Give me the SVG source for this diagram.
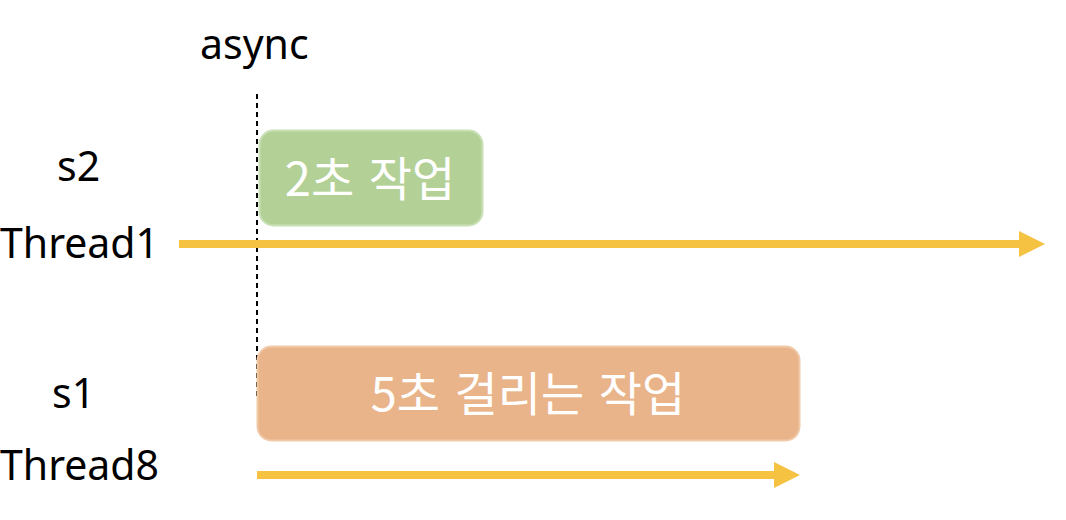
<svg xmlns="http://www.w3.org/2000/svg" width="1066" height="520" viewBox="0 0 1066 520">
<style>
.lbl{font-family:"Noto Sans","Noto Sans CJK KR",sans-serif;font-size:41px;fill:#000}
.box-t{font-family:"Noto Sans CJK KR","Noto Sans",sans-serif;font-size:47px;fill:#fff;text-anchor:middle;word-spacing:4px}
.arrow{stroke:#F5C242;stroke-width:8;fill:none}
.head{fill:#F5C242}
</style>
<rect width="1066" height="520" fill="#fff"/>
<g id="labels">
<text class="lbl" x="200" y="59">async</text>
<text class="lbl" x="57" y="181">s2</text>
<text class="lbl" x="0" y="258">Thread1</text>
<text class="lbl" x="52" y="408">s1</text>
<text class="lbl" x="0" y="480">Thread8</text>
</g>
<g id="connectors">
<line x1="257" y1="94" x2="257" y2="396" stroke="#000" stroke-width="2" stroke-dasharray="5,4"/>
<line class="arrow" x1="179" y1="244" x2="1022" y2="244"/>
<polygon class="head" points="1019,231 1045,244 1019,257"/>
<line class="arrow" x1="257" y1="475" x2="777" y2="475"/>
<polygon class="head" points="774,462 800,475 774,488"/>
</g>
<g id="task2">
<rect x="259.5" y="130.5" width="223" height="95" rx="14" fill="#B3D197" stroke="#C9DFB6" stroke-width="2"/>
<text class="box-t" x="370" y="196">2초 작업</text>
</g>
<g id="task5">
<rect x="257.5" y="346.5" width="542" height="94" rx="14" fill="#E9B48A" stroke="#F0C9A8" stroke-width="2"/>
<text class="box-t" x="528" y="411">5초 걸리는 작업</text>
</g>
</svg>
